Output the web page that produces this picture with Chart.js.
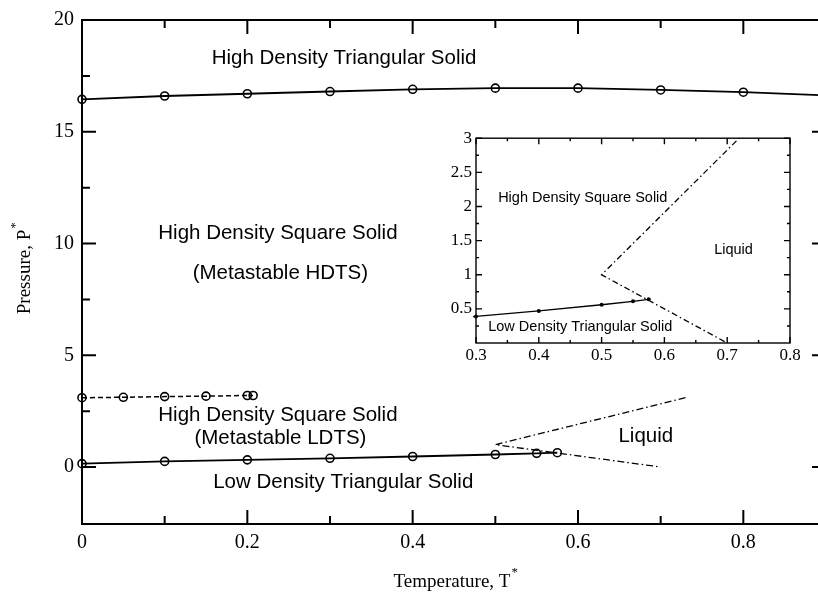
<!DOCTYPE html>
<html>
<head>
<meta charset="utf-8">
<script src="https://cdn.jsdelivr.net/npm/chart.js@4.4.0/dist/chart.umd.min.js"></script>
<style>
  html, body { margin: 0; padding: 0; background: #fff; overflow: hidden; width: 818px; height: 598px; }
  #main { position: absolute; left: 0; top: 0; }
  #inset { position: absolute; left: 431px; top: 124px; }
</style>
</head>
<body>
<canvas id="main" width="850" height="598"></canvas>
<canvas id="inset" width="389" height="249"></canvas>
<script>
// ----- DATA -----
const topT = [0, 0.1, 0.2, 0.3, 0.4, 0.5, 0.6, 0.7, 0.8, 0.9];
const topP = [16.45, 16.6, 16.7, 16.8, 16.9, 16.95, 16.95, 16.87, 16.77, 16.63];

const metaT = [0, 0.05, 0.1, 0.15, 0.2, 0.207];
const metaP = [3.1, 3.12, 3.15, 3.17, 3.2, 3.2];

const lowT = [0, 0.1, 0.2, 0.3, 0.4, 0.5, 0.55, 0.575];
const lowP = [0.15, 0.25, 0.32, 0.39, 0.47, 0.56, 0.61, 0.64];

const liqT = [0.73, 0.5, 0.7];
const liqP = [3.1, 1.0, 0.0];

const xTicks = [0, 0.2, 0.4, 0.6, 0.8];
const xMinor = [0.1, 0.3, 0.5, 0.7];
const yTicks = [0, 5, 10, 15, 20];
const yMinor = [2.5, 7.5, 12.5, 17.5];

const insetXTicks = [0.3, 0.4, 0.5, 0.6, 0.7, 0.8];
const insetXMinor = [0.35, 0.45, 0.55, 0.65, 0.75];
const insetYTicks = [0.5, 1, 1.5, 2, 2.5, 3];
const insetYMinor = [0.25, 0.75, 1.25, 1.75, 2.25, 2.75];

const mainLabels = [
  ["High Density Triangular Solid", 0.317, 18.3],
  ["High Density Square Solid", 0.237, 10.45],
  ["(Metastable HDTS)", 0.24, 8.67],
  ["High Density Square Solid", 0.237, 2.3],
  ["(Metastable LDTS)", 0.24, 1.28],
  ["Liquid", 0.682, 1.37],
  ["Low Density Triangular Solid", 0.316, -0.7]
];
const insetLabels = [
  ["High Density Square Solid", 0.47, 2.12],
  ["Liquid", 0.71, 1.36],
  ["Low Density Triangular Solid", 0.466, 0.24]
];

const pts = (xs, ys) => xs.map((v, i) => ({ x: v, y: ys[i] }));
const serif = "'Liberation Serif', 'Times New Roman', serif";
const sans = "'Liberation Sans', Arial, sans-serif";

// ----- PLUGINS -----
function frame(lw, major, minor, xs, xm, ys, ym) {
  return {
    id: "frame",
    afterDatasetsDraw(chart) {
      const { ctx, chartArea: a, scales: { x, y } } = chart;
      ctx.save();
      ctx.strokeStyle = "#000";
      ctx.lineWidth = lw;
      ctx.strokeRect(a.left, a.top, a.right - a.left, a.bottom - a.top);
      ctx.beginPath();
      const xt = (vals, len) => vals.forEach(v => {
        const p = x.getPixelForValue(v);
        ctx.moveTo(p, a.bottom); ctx.lineTo(p, a.bottom - len);
        ctx.moveTo(p, a.top); ctx.lineTo(p, a.top + len);
      });
      const yt = (vals, len) => vals.forEach(v => {
        const p = y.getPixelForValue(v);
        ctx.moveTo(a.left, p); ctx.lineTo(a.left + len, p);
        ctx.moveTo(a.right, p); ctx.lineTo(a.right - len, p);
      });
      xt(xs, major); xt(xm, minor);
      yt(ys, major); yt(ym, minor);
      ctx.stroke();
      ctx.restore();
    }
  };
}

function labels(list, font) {
  return {
    id: "labels",
    afterDraw(chart) {
      const { ctx, scales: { x, y } } = chart;
      ctx.save();
      ctx.fillStyle = "#000";
      ctx.font = font;
      ctx.textAlign = "center";
      ctx.textBaseline = "middle";
      list.forEach(([t, tx, ty]) => ctx.fillText(t, x.getPixelForValue(tx), y.getPixelForValue(ty)));
      ctx.restore();
    }
  };
}

// axis titles with a superscript star
const titles = {
  id: "titles",
  afterDraw(chart) {
    const ctx = chart.ctx;
    ctx.save();
    ctx.fillStyle = "#000";
    ctx.textBaseline = "alphabetic";
    ctx.textAlign = "left";
    ctx.font = "19px " + serif;
    let w = ctx.measureText("Temperature, T").width;
    let x0 = 452 - w / 2;
    ctx.fillText("Temperature, T", x0, 587);
    ctx.font = "13px " + serif;
    ctx.fillText("*", x0 + w + 1, 576);

    ctx.translate(30, 272);
    ctx.rotate(-Math.PI / 2);
    ctx.font = "19px " + serif;
    w = ctx.measureText("Pressure, P").width;
    x0 = -w / 2;
    ctx.fillText("Pressure, P", x0, 0);
    ctx.font = "13px " + serif;
    ctx.fillText("*", x0 + w + 1, -11);
    ctx.restore();
  }
};

function axis(min, max, ticks, size, fit, font, pad) {
  return {
    type: "linear", min, max,
    grid: { display: false, drawTicks: false },
    border: { display: false },
    afterBuildTicks: s => { s.ticks = ticks.map(v => ({ value: v })); },
    afterFit: fit,
    ticks: { padding: pad, color: "#000", font: { family: font, size }, maxRotation: 0, autoSkip: false, callback: v => String(v) }
  };
}

const common = {
  responsive: false,
  animation: false,
  events: [],
  plugins: { legend: { display: false }, tooltip: { enabled: false } }
};

// ----- MAIN CHART -----
new Chart(document.getElementById("main"), {
  type: "line",
  data: {
    datasets: [
      {
        data: pts(topT, topP), borderColor: "#000", borderWidth: 1.8,
        pointRadius: c => (c.dataIndex === topT.length - 1 ? 0 : 4),
        pointBorderWidth: 1.6, pointBorderColor: "#000", pointBackgroundColor: "transparent", clip: false
      },
      {
        data: pts(metaT, metaP), borderColor: "#000", borderWidth: 1.5, borderDash: [5, 3],
        pointRadius: 4, pointBorderWidth: 1.6, pointBorderColor: "#000", pointBackgroundColor: "transparent", clip: false
      },
      {
        data: pts(lowT, lowP), borderColor: "#000", borderWidth: 1.8,
        pointRadius: 4, pointBorderWidth: 1.6, pointBorderColor: "#000", pointBackgroundColor: "transparent", clip: false
      },
      {
        data: pts(liqT, liqP), borderColor: "#000", borderWidth: 1.3, borderDash: [7, 3, 1.5, 3],
        pointRadius: 0, clip: false
      }
    ]
  },
  options: {
    ...common,
    layout: { padding: { left: 0, top: 14, right: 24, bottom: 0 } },
    scales: {
      x: axis(0, 0.9, xTicks, 20, s => { s.height = 74; }, serif, 7),
      y: axis(-2.55, 20, yTicks, 20, s => { s.width = 82; }, serif, 8)
    }
  },
  plugins: [frame(2, 14, 8, xTicks, xMinor, yTicks, yMinor), labels(mainLabels, "20.5px " + sans), titles]
});

// ----- INSET -----
new Chart(document.getElementById("inset"), {
  type: "line",
  data: {
    datasets: [
      {
        data: pts(lowT, lowP), borderColor: "#000", borderWidth: 1.3,
        pointRadius: 2, pointBorderWidth: 0, pointBackgroundColor: "#000",
        clip: { left: 3, right: 3, top: 3, bottom: 3 }
      },
      {
        data: pts(liqT, liqP), borderColor: "#000", borderWidth: 1.3, borderDash: [6, 3, 1.5, 3],
        pointRadius: 0, clip: 0
      }
    ]
  },
  options: {
    ...common,
    layout: { padding: { left: 0, top: 10, right: 30, bottom: 0 } },
    scales: {
      x: axis(0.3, 0.8, insetXTicks, 17, s => { s.height = 30; }, serif, 2),
      y: axis(0, 3, insetYTicks, 17, s => { s.width = 45; }, serif, 4)
    }
  },
  plugins: [frame(1.4, 6, 3, insetXTicks, insetXMinor, insetYTicks, insetYMinor), labels(insetLabels, "14.5px " + sans)]
});
</script>
</body>
</html>
